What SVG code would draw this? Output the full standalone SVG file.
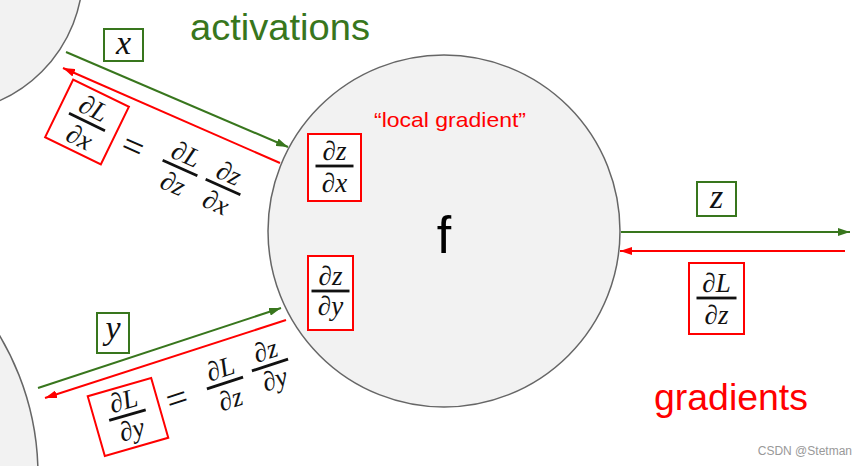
<svg xmlns="http://www.w3.org/2000/svg" width="868" height="466" viewBox="0 0 868 466">
<style>
.node{fill:#f2f2f2;stroke:#666;stroke-width:1.5}
.g{stroke:#38761d;stroke-width:2;fill:none}
.r{stroke:#ff0000;stroke-width:2;fill:none}
.gbox{fill:#fff;stroke:#38761d;stroke-width:2}
.rbox{fill:#fff;stroke:#ff0000;stroke-width:2}
.m{font-family:"Liberation Serif","DejaVu Serif",serif;font-style:italic;font-size:27px;text-anchor:middle;fill:#111}
.v{font-family:"Liberation Serif","DejaVu Serif",serif;font-style:italic;font-size:34px;text-anchor:middle;fill:#111}
.eq{font-family:"Liberation Serif","DejaVu Serif",serif;font-size:38px;text-anchor:middle;fill:#111}
.bar{fill:#111}
.sans{font-family:"Liberation Sans",Arial,sans-serif}
</style>
<defs>
<marker id="ag" markerWidth="12" markerHeight="8" refX="12" refY="4" orient="auto" markerUnits="userSpaceOnUse"><path d="M0,0 L12,4 L0,8 z" fill="#38761d"/></marker>
<marker id="ar" markerWidth="12" markerHeight="8" refX="12" refY="4" orient="auto" markerUnits="userSpaceOnUse"><path d="M0,0 L12,4 L0,8 z" fill="#ff0000"/></marker>
</defs>
<rect width="868" height="466" fill="#fff"/>
<g id="node-x"><circle class="node" cx="-58" cy="-28" r="141"/></g>
<g id="node-y"><circle class="node" cx="-234" cy="475" r="272"/></g>
<g id="node-f">
<circle class="node" cx="444" cy="231" r="176"/>
<text class="sans" x="444" y="253" font-size="52" text-anchor="middle" fill="#000">f</text>
<text class="sans" x="450" y="127" font-size="21" text-anchor="middle" fill="#ff0000" textLength="152" lengthAdjust="spacingAndGlyphs">“local gradient”</text>
<rect class="rbox" x="308" y="134" width="53" height="67"/>
<g transform="translate(334.5,166)"><text class="m" y="-6">∂z</text><rect class="bar" x="-19" y="-1.4" width="38" height="2.8"/><text class="m" y="26">∂x</text></g>
<rect class="rbox" x="308" y="256" width="45" height="74"/>
<g transform="translate(330.5,291)"><text class="m" y="-6">∂z</text><rect class="bar" x="-19" y="-1.4" width="38" height="2.8"/><text class="m" y="24">∂y</text></g>
</g>
<g id="connectors">
<line class="g" x1="66" y1="52" x2="288" y2="147" marker-end="url(#ag)"/>
<line class="r" x1="280" y1="163" x2="63" y2="68" marker-end="url(#ar)"/>
<line class="g" x1="38" y1="388" x2="281" y2="308" marker-end="url(#ag)"/>
<line class="r" x1="286" y1="320" x2="45" y2="398" marker-end="url(#ar)"/>
<line class="g" x1="621" y1="232" x2="850" y2="232" marker-end="url(#ag)"/>
<line class="r" x1="845" y1="251" x2="620" y2="251" marker-end="url(#ar)"/>
</g>
<g id="label-x">
<rect class="gbox" x="104" y="29" width="39" height="32"/>
<text class="v" x="123.5" y="54">x</text>
</g>
<g id="label-y">
<rect class="gbox" x="97" y="313" width="32" height="40"/>
<text class="v" x="113" y="339">y</text>
</g>
<g id="label-z">
<rect class="gbox" x="697" y="182" width="39" height="34"/>
<text class="v" x="716.5" y="208">z</text>
</g>
<g id="label-dLdz">
<rect class="rbox" x="689" y="263" width="55" height="71"/>
<g transform="translate(716.5,298)"><text class="m" y="-6">∂L</text><rect class="bar" x="-20" y="-1.4" width="40" height="2.8"/><text class="m" y="26">∂z</text></g>
</g>
<g id="eq-x">
<g transform="translate(87,122) rotate(26)"><rect class="rbox" x="-31" y="-32" width="62" height="64"/><text class="m" y="-6">∂L</text><rect class="bar" x="-20" y="-1.4" width="40" height="2.8"/><text class="m" y="26">∂x</text></g>
<g transform="translate(133,147) rotate(24)"><text class="eq" y="12">=</text></g>
<g transform="translate(180,168) rotate(24)"><text class="m" y="-6">∂L</text><rect class="bar" x="-19" y="-1.4" width="38" height="2.8"/><text class="m" y="26">∂z</text></g>
<g transform="translate(223,187) rotate(24)"><text class="m" y="-6">∂z</text><rect class="bar" x="-19" y="-1.4" width="38" height="2.8"/><text class="m" y="26">∂x</text></g>
</g>
<g id="eq-y">
<g transform="translate(128,417) rotate(-16)"><rect class="rbox" x="-33" y="-31" width="66" height="62"/><text class="m" y="-8">∂L</text><rect class="bar" x="-19" y="-3.4" width="38" height="2.8"/><text class="m" y="22">∂y</text></g>
<g transform="translate(177,399) rotate(-18)"><text class="eq" y="12">=</text></g>
<g transform="translate(225,383) rotate(-18)"><text class="m" y="-6">∂L</text><rect class="bar" x="-19" y="-1.4" width="38" height="2.8"/><text class="m" y="26">∂z</text></g>
<g transform="translate(270,365) rotate(-18)"><text class="m" y="-6">∂z</text><rect class="bar" x="-19" y="-1.4" width="38" height="2.8"/><text class="m" y="24">∂y</text></g>
</g>
<text class="sans" x="280" y="40" font-size="36" text-anchor="middle" fill="#38761d" textLength="180" lengthAdjust="spacingAndGlyphs">activations</text>
<text class="sans" x="731" y="410" font-size="36" text-anchor="middle" fill="#ff0000" textLength="154" lengthAdjust="spacingAndGlyphs">gradients</text>
<text class="sans" x="852" y="455" font-size="12" text-anchor="end" fill="#999">CSDN @Stetman</text>
</svg>
